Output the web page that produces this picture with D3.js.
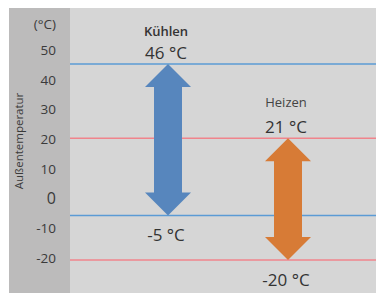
<!DOCTYPE html>
<html>
<head>
<meta charset="utf-8">
<script src="https://cdn.jsdelivr.net/npm/d3@7"></script>
<style>
  body { margin: 0; background: #fff; }
  svg { display: block; font-family: "Open Sans", "Noto Sans", sans-serif; }
</style>
</head>
<body>
<script>
let tickValues = [50, 40, 30, 20, 10, 0, -10, -20];
let modes = ["Kühlen", "Heizen"];
let maxTemps = [46, 21];
let minTemps = [-5, -20];
let modeColors = ["#5786bd", "#d77b36"];
let lineColors = ["#5b9bd5", "#f0848c"];

let width = 380, height = 293;

let svg = d3.select("body")
  .append("svg")
  .attr("width", width)
  .attr("height", height)

let y = d3.scaleLinear()
  .domain([-20, 46])
  .range([260, 64])

let x = d3.scalePoint()
  .domain(modes)
  .range([168, 288])

// panels
svg.append("rect")
  .attr("x", 70).attr("y", 8)
  .attr("width", 306).attr("height", height - 8)
  .attr("fill", "#d6d6d6")
svg.append("rect")
  .attr("x", 9).attr("y", 8)
  .attr("width", 61).attr("height", height - 8)
  .attr("fill", "#bcbbbb")

// y labels
svg.append("g")
  .selectAll("text")
  .data(tickValues)
  .enter()
  .append("text")
  .attr("x", 56)
  .attr("y", function (d) { return y(d) - 2; })
  .attr("dy", "0.35em")
  .attr("text-anchor", "end")
  .attr("fill", "#3a3a3a")
  .attr("font-size", function (d) { return d === 0 ? "16px" : "13.5px"; })
  .text(function (d) { return d; })

svg.append("text")
  .attr("x", 56).attr("y", 29)
  .attr("text-anchor", "end")
  .attr("fill", "#3a3a3a")
  .attr("font-size", "13.5px")
  .text("(°C)")

svg.append("text")
  .attr("transform", "translate(23,141) rotate(-90)")
  .attr("text-anchor", "middle")
  .attr("fill", "#3a3a3a")
  .attr("font-size", "11.5px")
  .text("Außentemperatur")

// limit lines, blue for cooling range, red for heating
modes.forEach(function (m, i) {
  [maxTemps[i], minTemps[i]].forEach(function (t) {
    svg.append("line")
      .attr("x1", 70).attr("x2", 376)
      .attr("y1", y(t)).attr("y2", y(t))
      .attr("stroke", lineColors[i])
      .attr("stroke-width", 1.5)
  })
})

function arrowPath(cx, top, bottom) {
  let sw = 14, hw = 23, hh = 23;
  return "M" + cx + "," + top +
    "L" + (cx + hw) + "," + (top + hh) +
    "L" + (cx + sw) + "," + (top + hh) +
    "L" + (cx + sw) + "," + (bottom - hh) +
    "L" + (cx + hw) + "," + (bottom - hh) +
    "L" + cx + "," + bottom +
    "L" + (cx - hw) + "," + (bottom - hh) +
    "L" + (cx - sw) + "," + (bottom - hh) +
    "L" + (cx - sw) + "," + (top + hh) +
    "L" + (cx - hw) + "," + (top + hh) + "Z";
}

let groups = svg.selectAll("g.mode")
  .data(modes)
  .enter()
  .append("g")
  .attr("class", "mode")

groups.append("path")
  .attr("d", function (d, i) { return arrowPath(x(d), y(maxTemps[i]), y(minTemps[i])); })
  .attr("fill", function (d, i) { return modeColors[i]; })

groups.append("text")
  .attr("x", function (d) { return x(d) - 2; })
  .attr("y", function (d, i) { return y(maxTemps[i]) - (i === 0 ? 28 : 31); })
  .attr("text-anchor", "middle")
  .attr("fill", function (d, i) { return i === 0 ? "#333" : "#444"; })
  .attr("font-size", "13px")
  .attr("font-weight", function (d, i) { return i === 0 ? 600 : 400; })
  .text(function (d) { return d; })

groups.append("text")
  .attr("x", function (d) { return x(d) - 2; })
  .attr("y", function (d, i) { return y(maxTemps[i]) - 5; })
  .attr("text-anchor", "middle")
  .attr("fill", "#333")
  .attr("font-size", "17px")
  .text(function (d, i) { return maxTemps[i] + " °C"; })

groups.append("text")
  .attr("x", function (d) { return x(d) - 2; })
  .attr("y", function (d, i) { return y(minTemps[i]) + 26; })
  .attr("text-anchor", "middle")
  .attr("fill", "#333")
  .attr("font-size", "17px")
  .text(function (d, i) { return minTemps[i] + " °C"; })
</script>
</body>
</html>
